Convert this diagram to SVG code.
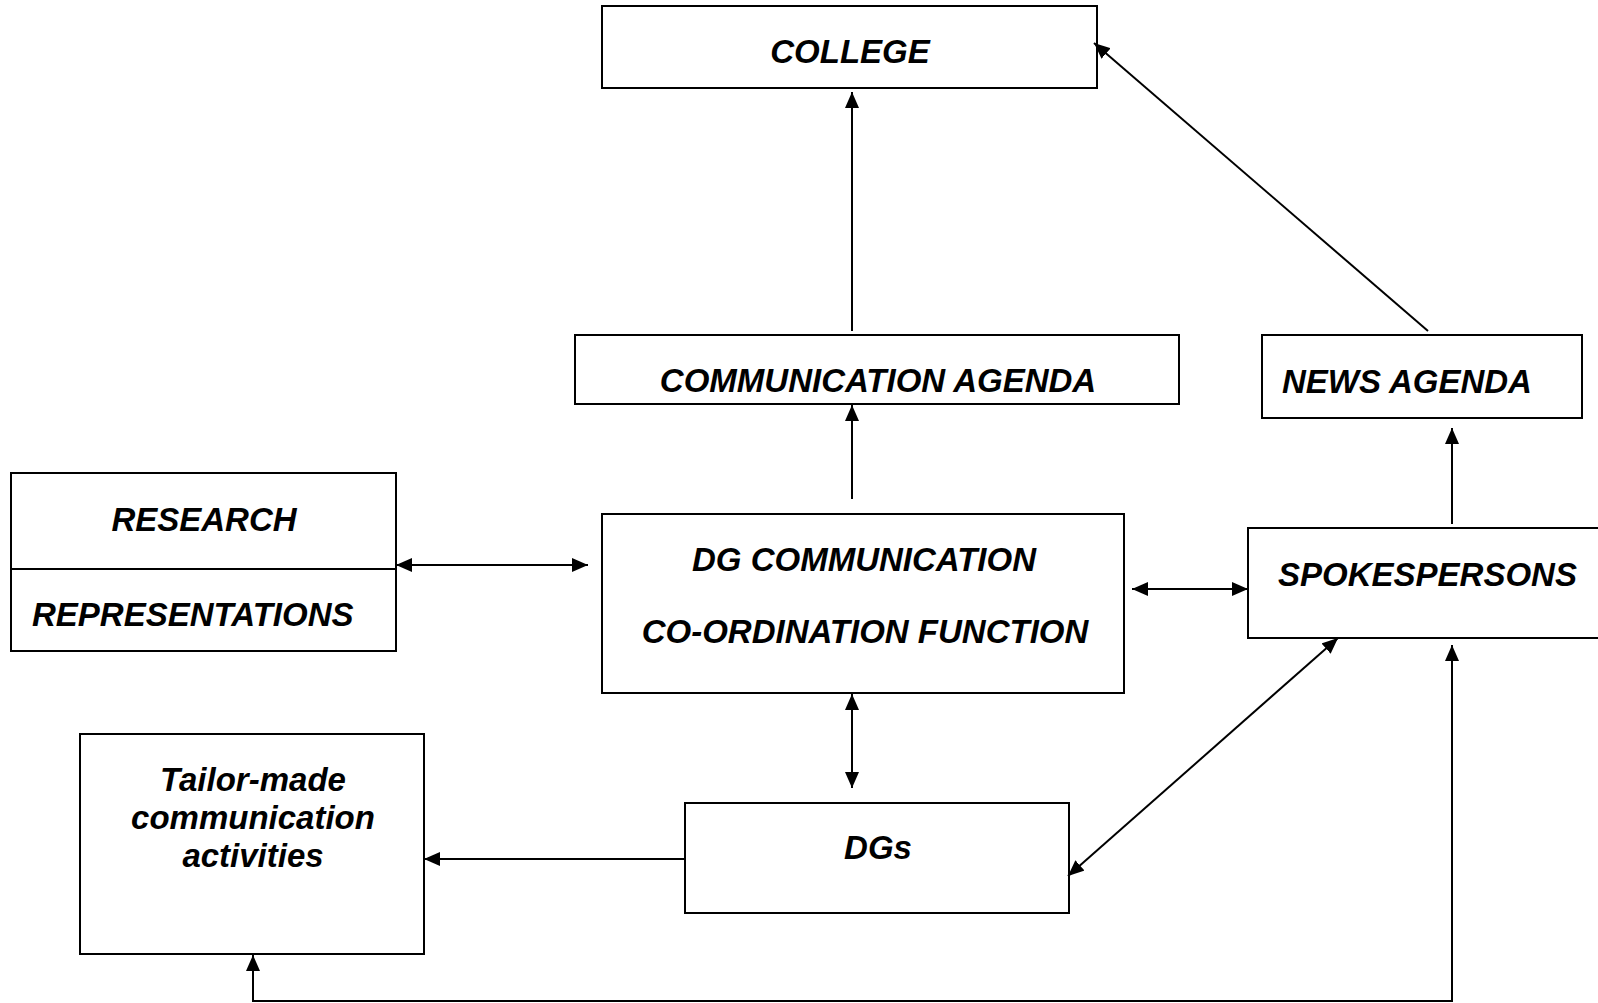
<svg xmlns="http://www.w3.org/2000/svg" width="1598" height="1003" viewBox="0 0 1598 1003">
<style>
.box{fill:#fff;stroke:#000;stroke-width:2}
.t{font-family:"Liberation Sans",Arial,sans-serif;font-weight:bold;font-style:italic;font-size:33px;fill:#000}
.c{text-anchor:middle}
.ln{fill:none;stroke:#000;stroke-width:2}
</style>
<defs>
<marker id="ah" viewBox="0 0 16 14" refX="16" refY="7" markerWidth="16" markerHeight="14" markerUnits="userSpaceOnUse" orient="auto-start-reverse">
<path d="M0,0 L16,7 L0,14 z" fill="#000"/>
</marker>
</defs>
<rect width="1598" height="1003" fill="#fff"/>
<g id="college"><rect class="box" x="602" y="6" width="495" height="82"/><text class="t c" x="850" y="63">COLLEGE</text></g>
<g id="comm-agenda"><rect class="box" x="575" y="335" width="604" height="69"/><text class="t c" x="878" y="392">COMMUNICATION AGENDA</text></g>
<g id="news-agenda"><rect class="box" x="1262" y="335" width="320" height="83"/><text class="t" x="1282" y="393">NEWS AGENDA</text></g>
<g id="research"><rect class="box" x="11" y="473" width="385" height="178"/><line class="ln" x1="11" y1="569" x2="396" y2="569"/><text class="t c" x="204" y="531">RESEARCH</text><text class="t" x="32" y="626">REPRESENTATIONS</text></g>
<g id="dg-comm"><rect class="box" x="602" y="514" width="522" height="179"/><text class="t c" x="864" y="571">DG COMMUNICATION</text><text class="t c" x="865" y="643">CO-ORDINATION FUNCTION</text></g>
<g id="spokes"><rect class="box" x="1248" y="528" width="360" height="110"/><text class="t" x="1278" y="586">SPOKESPERSONS</text></g>
<g id="tailor"><rect class="box" x="80" y="734" width="344" height="220"/><text class="t c" x="253" y="791">Tailor-made</text><text class="t c" x="253" y="829">communication</text><text class="t c" x="253" y="867">activities</text></g>
<g id="dgs"><rect class="box" x="685" y="803" width="384" height="110"/><text class="t c" x="878" y="859">DGs</text></g>
<g id="connectors">
<line class="ln" x1="852" y1="331" x2="852" y2="92" marker-end="url(#ah)"/>
<line class="ln" x1="852" y1="499" x2="852" y2="405" marker-end="url(#ah)"/>
<line class="ln" x1="1428" y1="331" x2="1094" y2="43" marker-end="url(#ah)"/>
<line class="ln" x1="396" y1="565" x2="588" y2="565" marker-start="url(#ah)" marker-end="url(#ah)"/>
<line class="ln" x1="1132" y1="589" x2="1248" y2="589" marker-start="url(#ah)" marker-end="url(#ah)"/>
<line class="ln" x1="1452" y1="524" x2="1452" y2="428" marker-end="url(#ah)"/>
<line class="ln" x1="852" y1="694" x2="852" y2="788" marker-start="url(#ah)" marker-end="url(#ah)"/>
<line class="ln" x1="1068" y1="876" x2="1338" y2="638" marker-start="url(#ah)" marker-end="url(#ah)"/>
<line class="ln" x1="685" y1="859" x2="424" y2="859" marker-end="url(#ah)"/>
<polyline class="ln" points="253,955 253,1001 1452,1001 1452,645" marker-start="url(#ah)" marker-end="url(#ah)"/>
</g>
</svg>
